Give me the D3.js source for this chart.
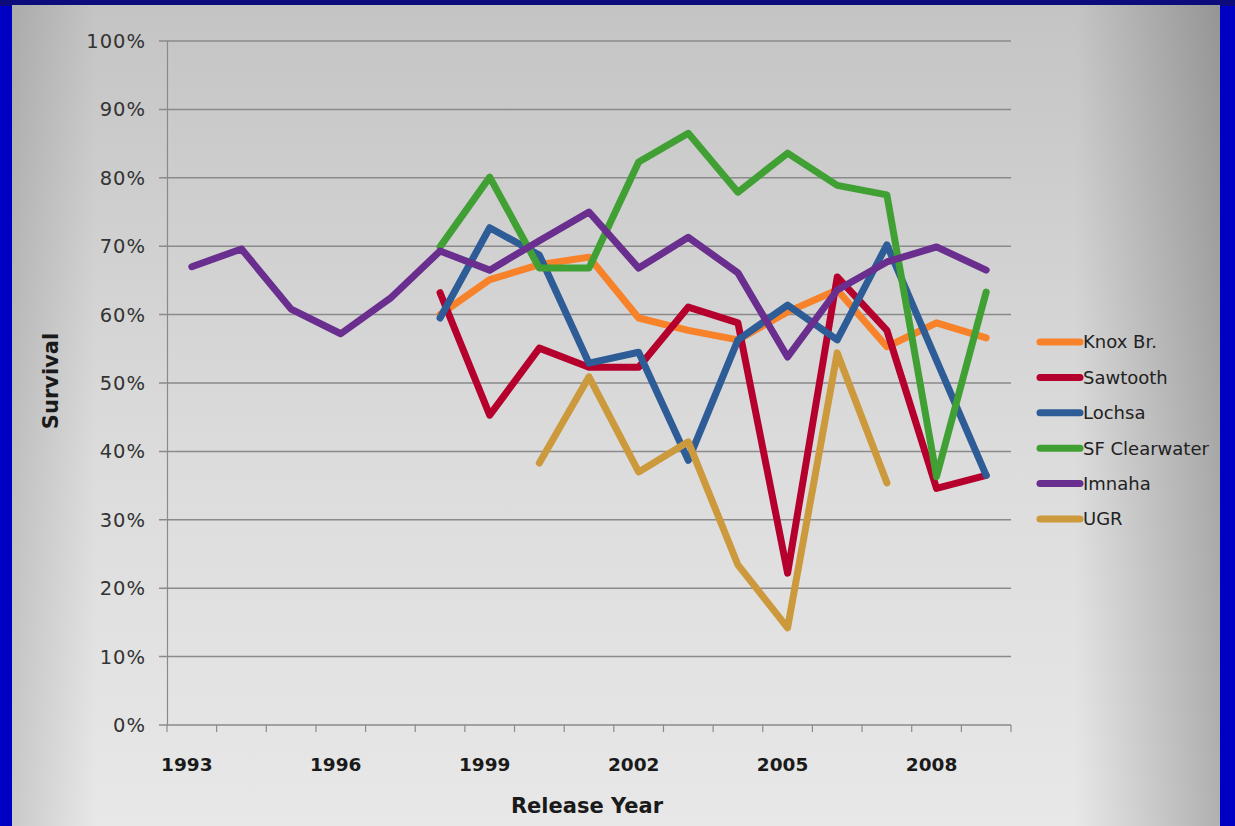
<!DOCTYPE html>
<html><head><meta charset="utf-8">
<script src="https://cdn.jsdelivr.net/npm/d3@7"></script>
<style>html,body{margin:0;padding:0;background:#0000c4;}svg{display:block;}</style>
</head><body>
<svg id="c" width="1235" height="826"></svg>
<script>
const years = [1993,1994,1995,1996,1997,1998,1999,2000,2001,2002,2003,2004,2005,2006,2007,2008,2009];
const tickYears = [1993,1996,1999,2002,2005,2008];
const yTicks = [0,0.1,0.2,0.3,0.4,0.5,0.6,0.7,0.8,0.9,1.0];
const seriesNames = ["Knox Br.","Sawtooth","Lochsa","SF Clearwater","Imnaha","UGR"];
const seriesColors = ["#f7822a","#b5002d","#2d5c96","#41a034","#6a2e8f","#cc9a3c"];
// values by year (null = no data)
const knoxBr =      [null,null,null,null,null,0.600,0.651,0.673,0.684,0.595,0.577,0.563,0.604,0.636,0.553,0.588,0.566];
const sawtooth =    [null,null,null,null,null,0.632,0.453,0.551,0.523,0.523,0.611,0.588,0.222,0.655,0.577,0.346,0.365];
const lochsa =      [null,null,null,null,null,0.595,0.727,0.687,0.529,0.545,0.387,0.563,0.614,0.563,0.702,0.533,0.365];
const sfClearwater =[null,null,null,null,null,0.699,0.801,0.668,0.668,0.823,0.865,0.779,0.836,0.789,0.775,0.363,0.633];
const imnaha =      [0.670,0.696,0.608,0.572,0.624,0.693,0.665,0.708,0.750,0.668,0.713,0.661,0.538,0.636,0.677,0.699,0.665];
const ugr =         [null,null,null,null,null,null,null,0.383,0.509,0.370,0.414,0.234,0.142,0.544,0.354,null,null];
const seriesValues = [knoxBr,sawtooth,lochsa,sfClearwater,imnaha,ugr];

const FONT = "DejaVu Sans, Verdana, sans-serif";
const svg = d3.select("#c");
const defs = svg.append("defs");
const vg = defs.append("linearGradient").attr("id","vg").attr("x1","0").attr("y1","0").attr("x2","0").attr("y2","1");
vg.append("stop").attr("offset","0%").attr("stop-color","#c4c4c4");
vg.append("stop").attr("offset","55%").attr("stop-color","#dcdcdc");
vg.append("stop").attr("offset","100%").attr("stop-color","#e8e8e8");
const hg = defs.append("linearGradient").attr("id","hg").attr("x1","0").attr("y1","0").attr("x2","1").attr("y2","0");
hg.append("stop").attr("offset","0%").attr("stop-color","#000").attr("stop-opacity",0.13);
hg.append("stop").attr("offset","7%").attr("stop-color","#000").attr("stop-opacity",0.0);
hg.append("stop").attr("offset","88%").attr("stop-color","#000").attr("stop-opacity",0.0);
hg.append("stop").attr("offset","100%").attr("stop-color","#000").attr("stop-opacity",0.24);

svg.append("rect").attr("width",1235).attr("height",826).attr("fill","#0000c4");
svg.append("rect").attr("width",1235).attr("height",6).attr("fill","#0c0c7c");
svg.append("rect").attr("x",12).attr("y",5).attr("width",1208).attr("height",830).attr("fill","url(#vg)");
svg.append("rect").attr("x",12).attr("y",5).attr("width",1208).attr("height",830).attr("fill","url(#hg)");

const x = d3.scalePoint().domain(years).range([167,1011]).padding(0.5);
const y = d3.scaleLinear().domain([0,1]).range([725,41]);
const step = x.step();

// gridlines
svg.append("g").selectAll("line").data(yTicks).join("line")
  .attr("x1",159).attr("x2",1011).attr("y1",d=>y(d)).attr("y2",d=>y(d))
  .attr("stroke","#8a8a8a").attr("stroke-width",1.5);
// y axis line
svg.append("line").attr("x1",167.5).attr("x2",167.5).attr("y1",y(1)).attr("y2",y(0))
  .attr("stroke","#8a8a8a").attr("stroke-width",1.2);
// x tick marks at category boundaries
const bounds = years.map(d=>x(d)-step/2).concat([x(years[years.length-1])+step/2]);
svg.append("g").selectAll("line").data(bounds).join("line")
  .attr("x1",d=>d).attr("x2",d=>d).attr("y1",y(0)).attr("y2",y(0)+7)
  .attr("stroke","#8a8a8a").attr("stroke-width",1.2);

// y labels
svg.append("g").selectAll("text").data(yTicks).join("text")
  .attr("x",146).attr("y",d=>y(d)).attr("dy","0.36em").attr("text-anchor","end")
  .attr("font-family",FONT).attr("font-size",19.5).attr("letter-spacing","1px").attr("fill","#333")
  .text(d=>d3.format(".0%")(d));
// x labels
svg.append("g").selectAll("text").data(tickYears).join("text")
  .attr("x",d=>x(d)-5).attr("y",771).attr("text-anchor","middle")
  .attr("font-family",FONT).attr("font-weight","bold").attr("font-size",18.5).attr("fill","#1a1a1a")
  .text(d=>d);
// axis titles
svg.append("text").attr("x",587).attr("y",813).attr("text-anchor","middle")
  .attr("font-family",FONT).attr("font-weight","bold").attr("font-size",21).attr("fill","#1a1a1a")
  .text("Release Year");
svg.append("text").attr("transform","translate(58,381) rotate(-90)").attr("text-anchor","middle")
  .attr("font-family",FONT).attr("font-weight","bold").attr("font-size",21).attr("fill","#1a1a1a")
  .text("Survival");

// lines
const line = d3.line().defined(d=>d.v!=null).x(d=>x(d.year)).y(d=>y(d.v));
seriesValues.forEach((vals,i)=>{
  const data = years.map((yr,j)=>({year:yr,v:vals[j]}));
  svg.append("path").datum(data).attr("d",line).attr("fill","none")
    .attr("stroke",seriesColors[i]).attr("stroke-width",7)
    .attr("stroke-linejoin","round").attr("stroke-linecap","round");
});

// legend
const lg = svg.append("g");
seriesNames.forEach((n,i)=>{
  const ly = 342 + i*35.4;
  lg.append("line").attr("x1",1040).attr("x2",1080).attr("y1",ly).attr("y2",ly)
    .attr("stroke",seriesColors[i]).attr("stroke-width",7).attr("stroke-linecap","round");
  lg.append("text").attr("x",1083).attr("y",ly).attr("dy","0.36em")
    .attr("font-family",FONT).attr("font-size",18).attr("fill","#222")
    .text(n);
});
</script>
</body></html>
